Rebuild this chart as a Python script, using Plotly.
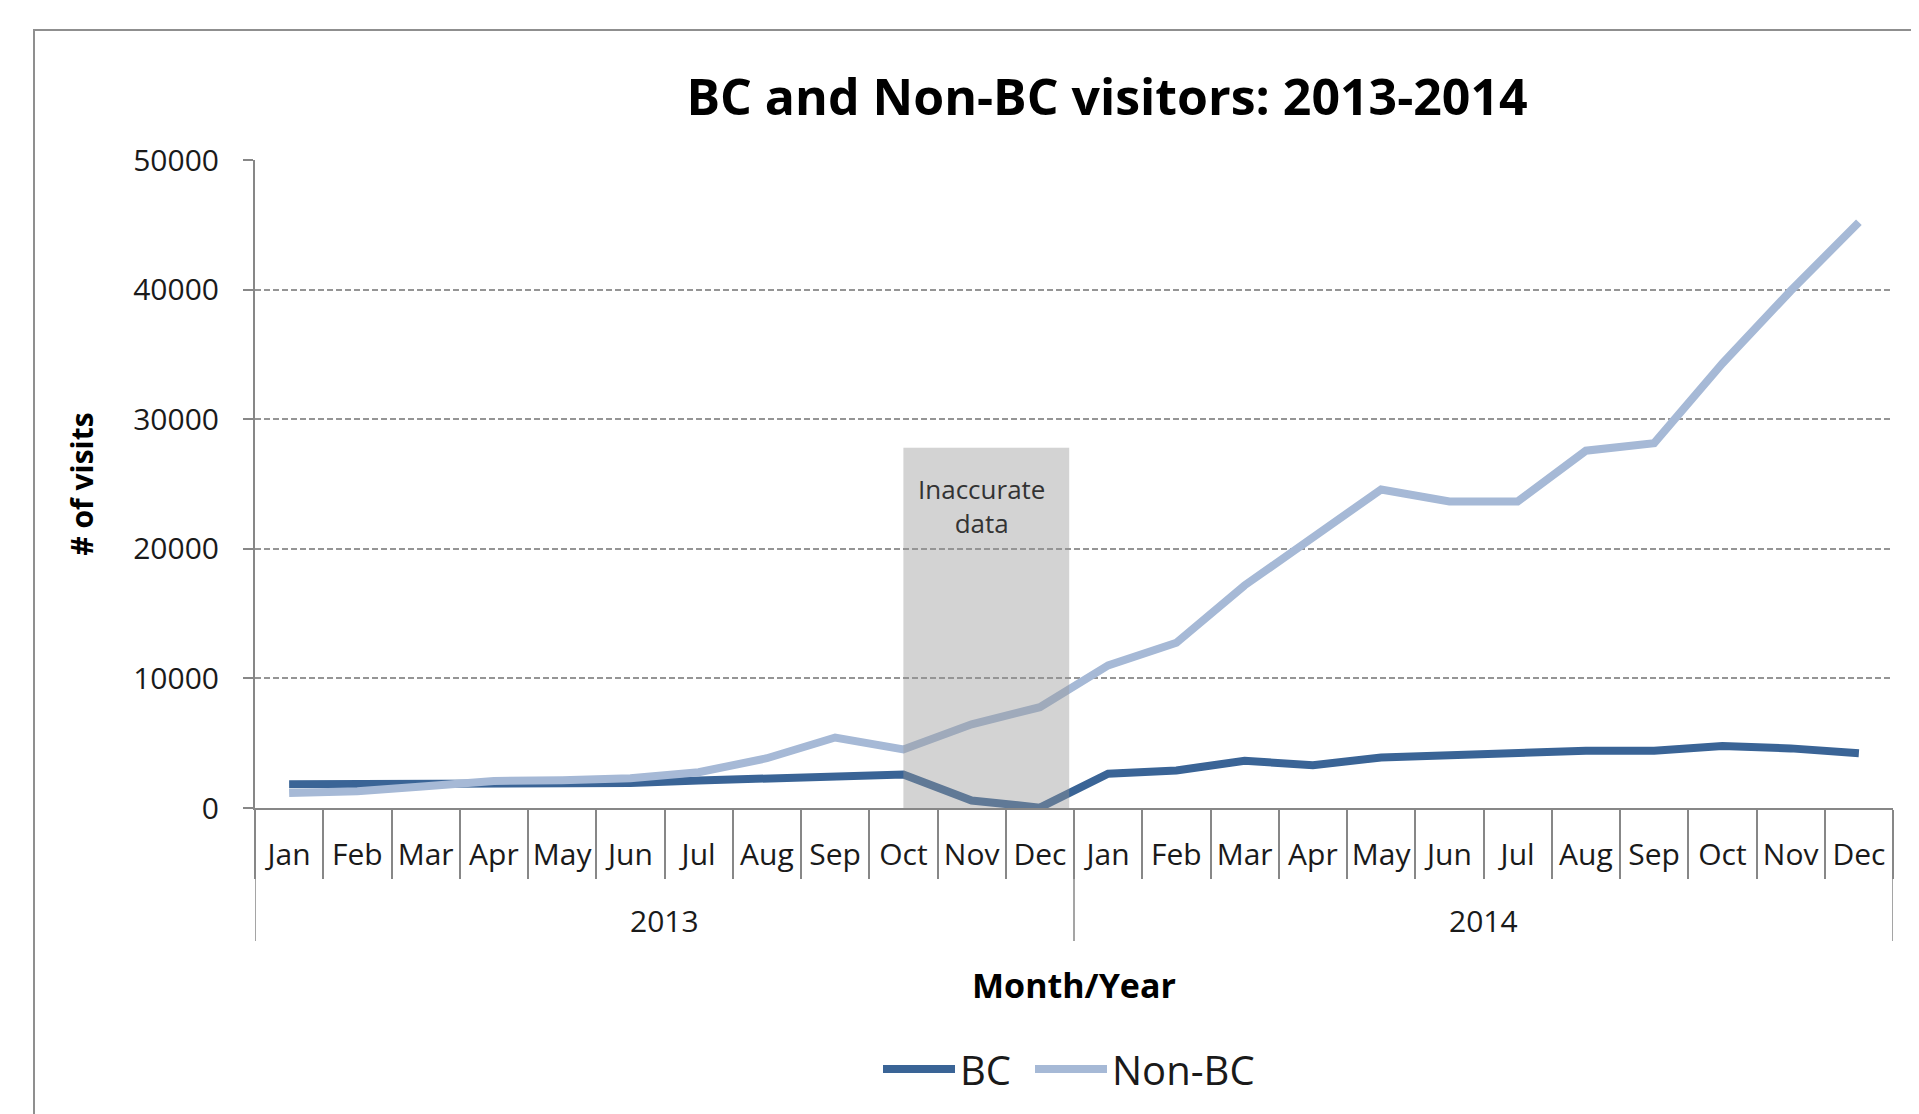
import plotly.graph_objects as go

# ---- data ----
months = ["Jan", "Feb", "Mar", "Apr", "May", "Jun", "Jul", "Aug", "Sep", "Oct", "Nov", "Dec"]
years = ["2013", "2014"]
bc = [1840, 1850, 1860, 1860, 1880, 1920, 2120, 2300, 2380, 2580, 580, 30,
      2650, 2900, 3650, 3300, 3900, 4100, 4350, 4420, 4420, 4780, 4600, 4220]
non_bc = [1160, 1300, 1670, 2080, 2150, 2300, 2760, 3840, 5440, 4520, 6460, 7780,
          11000, 12750, 17180, 20900, 24580, 23650, 23650, 27570, 28150, 34300, 39900, 45200]
y_ticks = [0, 10000, 20000, 30000, 40000, 50000]
shade_from = ("2013", "Oct")
shade_top = 27800

# ---- derived ----
tick_text = [m for y in years for m in months]
x_idx = list(range(len(tick_text)))
n = len(x_idx)
boundaries = [i - 0.5 for i in range(n + 1)]
year_bounds = [i * len(months) - 0.5 for i in range(len(years) + 1)]
year_centers = [i * len(months) + (len(months) - 1) / 2 for i in range(len(years))]
shade_x0 = years.index(shade_from[0]) * len(months) + months.index(shade_from[1])

FONT = "Open Sans"
AX = "#878787"
C_BC = "#3A6496"
C_NBC = "#A6B9D6"

OFF = 8  # page body margin
W, H = 1911, 1106
L, R, T, B = 247, 26, 152, 301
pw, ph = W - L - R, H - T - B


def fx(p):  # page x pixel -> paper
    return (p - OFF - L) / pw


def fy(p):  # page y pixel -> paper
    return (H - B - (p - OFF)) / ph


fig = go.Figure()
fig.add_trace(go.Scatter(x=x_idx, y=bc, mode="lines", name="BC",
                         line=dict(color=C_BC, width=8), legend="legend"))
fig.add_trace(go.Scatter(x=x_idx, y=non_bc, mode="lines", name="Non-BC",
                         line=dict(color=C_NBC, width=8), legend="legend2"))

shapes = []
shapes.append(dict(type="rect", xref="x", yref="y", x0=shade_x0, x1=shade_x0 + 2.43,
                   y0=0, y1=shade_top, fillcolor="rgba(150,150,150,0.42)",
                   line=dict(width=0), layer="above"))
for xb in year_bounds:
    shapes.append(dict(type="line", xref="x", yref="paper", x0=xb, x1=xb,
                       y0=0, y1=fy(947), line=dict(color=AX, width=1.5)))
shapes.append(dict(type="rect", xref="paper", yref="paper",
                   x0=fx(34), x1=fx(1940), y0=fy(1140), y1=fy(29),
                   line=dict(color="#8f8f8f", width=2), layer="below"))

annotations = []
for yc, yl in zip(year_centers, years):
    annotations.append(dict(x=yc, y=fy(926), xref="x", yref="paper", text=yl,
                            showarrow=False, yanchor="middle",
                            font=dict(family=FONT, size=30, color="#1a1a1a")))
annotations.append(dict(x=10.15, y=fy(509), xref="x", yref="paper",
                        text="Inaccurate<br>data", showarrow=False, yanchor="middle",
                        font=dict(family=FONT, size=26, color="#333333")))

leg_common = dict(orientation="h", xanchor="left", yanchor="middle",
                  y=fy(1076), font=dict(family=FONT, size=40, color="#1a1a1a"),
                  itemwidth=72, bgcolor="rgba(0,0,0,0)")

fig.update_layout(
    width=W, height=H,
    margin=dict(l=L, r=R, t=T, b=B),
    paper_bgcolor="white", plot_bgcolor="white",
    font=dict(family=FONT, color="#1a1a1a"),
    title=dict(text="<b>BC and Non-BC visitors: 2013-2014</b>",
               x=(1107 - OFF) / W, xref="container", xanchor="center",
               y=1 - (97 - OFF) / H, yref="container", yanchor="middle",
               font=dict(family=FONT, size=50, color="black")),
    showlegend=True,
    legend=dict(x=fx(885 - 7), **leg_common),
    legend2=dict(x=fx(1037 - 7), **leg_common),
    shapes=shapes,
    annotations=annotations,
)

fig.update_xaxes(
    type="linear", range=[-0.5, n - 0.5],
    tickmode="array", tickvals=x_idx, ticktext=tick_text, ticks="",
    tickfont=dict(family=FONT, size=30, color="#1a1a1a"),
    ticklabelstandoff=19,
    showgrid=False, zeroline=False,
    showline=True, linecolor=AX, linewidth=2,
    minor=dict(tickmode="array", tickvals=boundaries, ticks="outside",
               ticklen=69, tickwidth=1.5, tickcolor=AX, showgrid=False),
    title=dict(text="<b>Month/Year</b>", standoff=101,
               font=dict(family=FONT, size=34, color="black")),
)
fig.update_yaxes(
    range=[0, 50000], tickmode="array", tickvals=y_ticks,
    ticktext=[str(v) for v in y_ticks],
    ticks="outside", ticklen=10, tickwidth=1.5, tickcolor=AX,
    tickfont=dict(family=FONT, size=30, color="#1a1a1a"),
    ticklabelstandoff=18,
    showgrid=True, gridcolor="#959595", gridwidth=1.5, griddash="6px,3px",
    zeroline=False, showline=True, linecolor=AX, linewidth=2,
    title=dict(text="<b># of visits</b>", standoff=31,
               font=dict(family=FONT, size=30, color="black")),
)

fig.write_html("out.html")
